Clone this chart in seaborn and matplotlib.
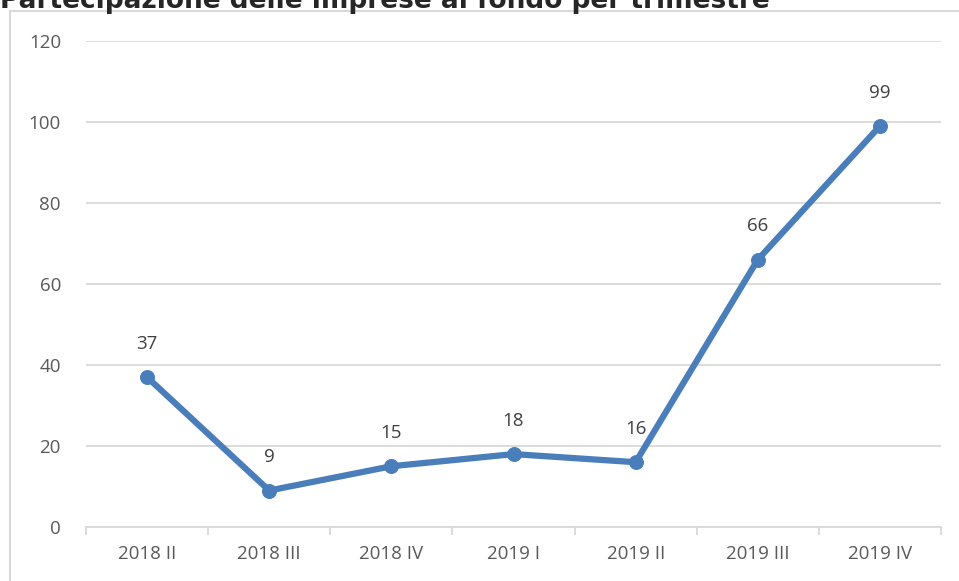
import numpy as np
import pandas as pd
import seaborn as sns
import matplotlib.pyplot as plt
from matplotlib.lines import Line2D

# dati
trimestri = ["2018 II", "2018 III", "2018 IV", "2019 I", "2019 II", "2019 III", "2019 IV"]
imprese = [37, 9, 15, 18, 16, 66, 99]
titolo = "Partecipazione delle imprese al fondo per trimestre"

df = pd.DataFrame({"trimestre": trimestri, "imprese": imprese})
df["pos"] = np.arange(len(df))

sns.set_theme(style="white")
plt.rcParams["font.family"] = ["Open Sans", "DejaVu Sans"]

W, H = 959, 581
fig = plt.figure(figsize=(W / 100, H / 100), dpi=100)
ax = fig.add_axes([86 / W, 1 - 527 / H, (941 - 86) / W, (527 - 41) / H])

blu = "#4a7ebb"
sns.lineplot(data=df, x="pos", y="imprese", ax=ax, color=blu, linewidth=4.5,
             marker="o", markersize=10, markeredgecolor=blu)

for _, r in df.iterrows():
    ax.annotate(str(r["imprese"]), (r["pos"], r["imprese"]), xytext=(0, 24),
                textcoords="offset points", ha="center", va="center",
                fontsize=13.5, color="#404040")

ax.set_xlim(-0.5, len(df) - 0.5)
ax.set_ylim(0, 120)
ax.set_yticks(range(0, 121, 20))
ax.set_xticks(df["pos"])
ax.set_xticklabels(trimestri)
ax.set_xticks(np.arange(-0.5, len(df), 1), minor=True)
ax.grid(axis="y", color="#d9d9d9", linewidth=1.3)
ax.set_axisbelow(True)
for s in ["top", "right", "left"]:
    ax.spines[s].set_visible(False)
ax.spines["bottom"].set_color("#d9d9d9")
ax.spines["bottom"].set_linewidth(1.3)
ax.tick_params(axis="x", which="major", length=0, pad=13, labelsize=13.5, labelcolor="#595959")
ax.tick_params(axis="x", which="minor", length=6, width=1.3, color="#d9d9d9", bottom=True)
ax.tick_params(axis="y", length=0, pad=18, labelsize=13.5, labelcolor="#595959")
ax.set_xlabel("")
ax.set_ylabel("")

# cornice del grafico
fig.add_artist(Line2D([10 / W, 10 / W], [0, 1 - 11 / H], color="#d9d9d9", linewidth=1.5))
fig.add_artist(Line2D([10 / W, 1], [1 - 11 / H, 1 - 11 / H], color="#d9d9d9", linewidth=1.5))

# titolo (tagliato in alto come nell'originale)
fig.text(0, 1 - 8 / H, titolo, fontsize=19, fontweight="bold", color="#262626",
         family=["DejaVu Sans"], ha="left", va="baseline")

fig.savefig("out.png", dpi=100)
